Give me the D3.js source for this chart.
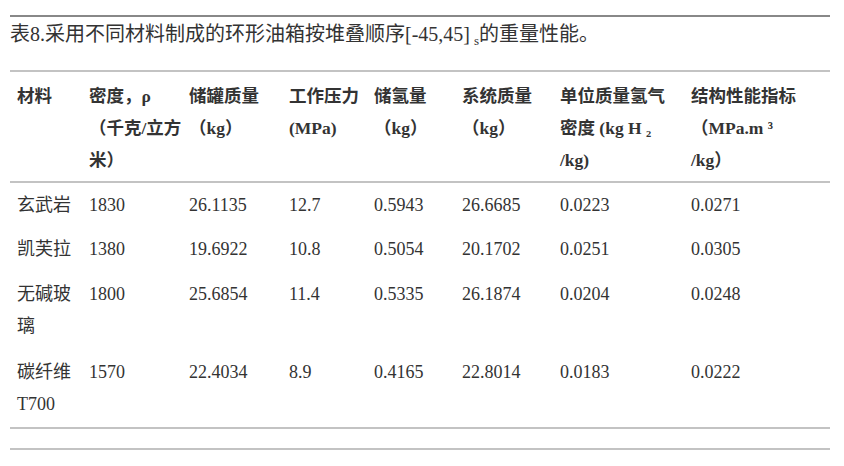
<!DOCTYPE html>
<html><head><meta charset="utf-8">
<script src="https://cdn.jsdelivr.net/npm/d3@7"></script>
<style>
body{margin:0;background:#fff;}
text{font-family:"Liberation Serif","Noto Sans CJK SC",serif;fill:#333;}
</style></head>
<body><svg id="t" width="844" height="466"></svg>
<script>
const title = "表8.采用不同材料制成的环形油箱按堆叠顺序[-45,45]";
const headers = [
  ["材料"],
  ["密度，ρ", "（千克/立方", "米）"],
  ["储罐质量", "（kg）"],
  ["工作压力", "(MPa)"],
  ["储氢量", "（kg）"],
  ["系统质量", "（kg）"],
  ["单位质量氢气", "密度 (kg H ₂", "/kg)"],
  ["结构性能指标", "（MPa.m ³", "/kg）"]
];
const materials = [["玄武岩"], ["凯芙拉"], ["无碱玻", "璃"], ["碳纤维", "T700"]];
const density = ["1830", "1380", "1800", "1570"];
const tankMass = ["26.1135", "19.6922", "25.6854", "22.4034"];
const pressure = ["12.7", "10.8", "11.4", "8.9"];
const h2Mass = ["0.5943", "0.5054", "0.5335", "0.4165"];
const sysMass = ["26.6685", "20.1702", "26.1874", "22.8014"];
const gravDensity = ["0.0223", "0.0251", "0.0204", "0.0183"];
const perfIndex = ["0.0271", "0.0305", "0.0248", "0.0222"];

const svg = d3.select("#t");
const colX = d3.scaleOrdinal().domain(d3.range(8)).range([17, 89, 189, 289, 374, 462, 560, 691]);
const rowY = d3.scaleOrdinal().domain(d3.range(4)).range([211, 255, 300, 378]);
const lineH = 32;

// rules
svg.selectAll("line.r").data([[16,2],[71,1.2],[182,1.2],[428,1.2],[449,1.2]]).join("line")
  .attr("x1", 10).attr("x2", 830).attr("y1", d => d[0]).attr("y2", d => d[0])
  .attr("stroke", "#888").attr("stroke-width", d => d[1]);

// title
const tt = svg.append("text").attr("x", 10).attr("y", 41).attr("font-size", 20);
tt.append("tspan").text(title);
tt.append("tspan").attr("font-size", 13).attr("dx", 4).attr("dy", 4).text("s");
tt.append("tspan").attr("dy", -4).text("的重量性能。");

// header
headers.forEach((h, i) => {
  svg.append("text").attr("x", colX(i)).attr("y", 102)
    .attr("font-size", 17.5).attr("font-weight", "bold")
    .selectAll("tspan").data(h).join("tspan")
    .attr("x", colX(i)).attr("dy", (d, j) => j ? lineH : 0).text(d => d);
});

// body
const cols = [materials, density, tankMass, pressure, h2Mass, sysMass, gravDensity, perfIndex];
cols.forEach((col, i) => {
  col.forEach((v, r) => {
    const lines = Array.isArray(v) ? v : [v];
    svg.append("text").attr("x", colX(i)).attr("y", rowY(r)).attr("font-size", 18)
      .selectAll("tspan").data(lines).join("tspan")
      .attr("x", colX(i)).attr("dy", (d, j) => j ? lineH : 0).text(d => d);
  });
});
</script></body></html>
